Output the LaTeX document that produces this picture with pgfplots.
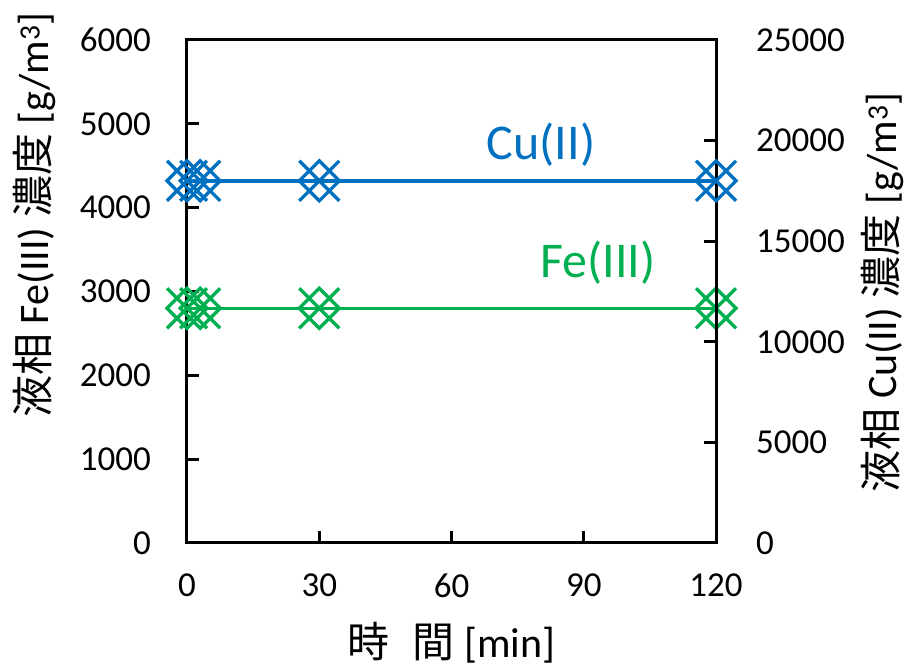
\documentclass[border=0pt]{standalone}
\usepackage{fontspec}
\setmainfont{Carlito}
\newfontfamily\jp{Noto Sans CJK JP}
\usepackage{pgfplots}
\pgfplotsset{compat=1.18}
\definecolor{cublue}{RGB}{0,112,192}
\definecolor{fegreen}{RGB}{0,176,80}
\pgfdeclareplotmark{lat}{%
  \pgfpathmoveto{\pgfqpoint{-20pt}{-20pt}}\pgfpathlineto{\pgfqpoint{20pt}{20pt}}%
  \pgfpathmoveto{\pgfqpoint{-20pt}{20pt}}\pgfpathlineto{\pgfqpoint{20pt}{-20pt}}%
  \pgfpathmoveto{\pgfqpoint{-20pt}{0pt}}\pgfpathlineto{\pgfqpoint{0pt}{20pt}}%
  \pgfpathlineto{\pgfqpoint{20pt}{0pt}}\pgfpathlineto{\pgfqpoint{0pt}{-20pt}}%
  \pgfpathclose
  \pgfusepathqstroke}
\pgfplotstableread{
t fe
0 2800
3 2800
30 2800
120 2800
}\fedata
\pgfplotstableread{
t cu
0 18000
3 18000
30 18000
120 18000
}\cudata
\begin{document}
\begin{tikzpicture}
\pgfplotsset{
  common/.style={
    at={(0,0)}, anchor=south west,
    scale only axis, width=529pt, height=503pt,
    xmin=0, xmax=120, clip=false,
    tick align=inside, major tick length=12pt,
    axis line style={line width=3pt, black},
    tick style={line width=3pt, black},
    tick label style={font=\fontsize{35}{40}\selectfont, inner sep=0pt},
    /pgf/number format/assume math mode=true,
    /pgf/number format/1000 sep={},
    scaled y ticks=false,
    label style={font=\fontsize{42}{48}\selectfont, inner sep=0pt},
  }
}
\begin{axis}[common,
  ymin=0, ymax=6000,
  xtick={0,30,60,90,120}, ytick={0,1000,2000,3000,4000,5000,6000},
  xtick pos=bottom, ytick pos=left,
  yticklabel style={anchor=east, xshift=-36pt},
  xticklabel style={anchor=north, yshift=-31pt},
  xlabel={{\jp 時}\hspace{0.55em}{\jp 間} [min]},
  xlabel style={at={(axis description cs:0.5,-0.198)}, anchor=center},
  ylabel={{\jp 液相} Fe(III) {\jp 濃度} [g/m\textsuperscript{3}]},
  ylabel style={at={(axis description cs:-0.288,0.652)}, anchor=center},
]
\addplot[color=fegreen, line width=3.5pt, mark=lat, mark options={line width=3.3pt}] table[x=t,y=fe] {\fedata};
\node[color=cublue, font=\fontsize{50}{56}\selectfont] at (axis cs:80.3,4748) {Cu(II)};
\node[color=fegreen, font=\fontsize{50}{56}\selectfont] at (axis cs:93.2,3340) {Fe(III)};
\end{axis}
\begin{axis}[common,
  ymin=0, ymax=25000,
  axis x line=none, axis y line*=right,
  ytick={0,5000,10000,15000,20000,25000},
  yticklabel style={anchor=west, xshift=40pt},
  ylabel={{\jp 液相} Cu(II) {\jp 濃度} [g/m\textsuperscript{3}]},
  ylabel style={at={(axis description cs:1.3148,0.498)}, anchor=center},
]
\addplot[color=cublue, line width=3.5pt, mark=lat, mark options={line width=3.3pt}] table[x=t,y=cu] {\cudata};
\end{axis}
\pgfresetboundingbox
\path[use as bounding box] (-187pt,-125pt) rectangle (720pt,543pt);
\end{tikzpicture}
\end{document}
